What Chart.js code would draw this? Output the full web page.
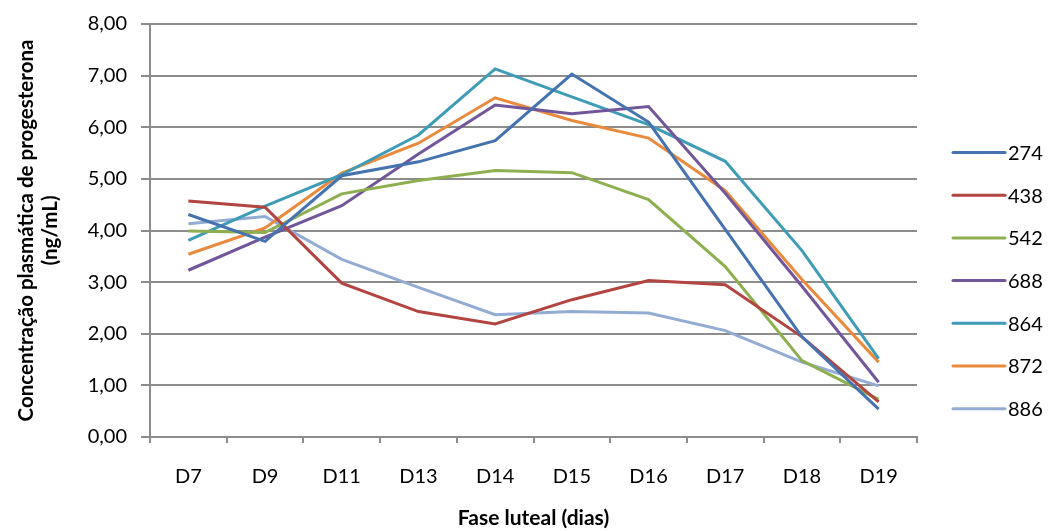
<!DOCTYPE html>
<html>
<head>
<meta charset="utf-8">
<script src="https://cdn.jsdelivr.net/npm/chart.js@4/dist/chart.umd.min.js"></script>
<style>
  html, body { margin: 0; padding: 0; background: #fff; }
  #wrap { width: 1050px; height: 531px; position: relative; }
</style>
</head>
<body>
<div id="wrap"><canvas id="c"></canvas></div>
<script>
// Days of the luteal phase
const days = ['D7', 'D9', 'D11', 'D13', 'D14', 'D15', 'D16', 'D17', 'D18', 'D19'];

// Plasma progesterone (ng/mL) per animal
const a274 = [4.31, 3.79, 5.06, 5.33, 5.74, 7.03, 6.10, 4.02, 1.94, 0.54];
const a438 = [4.57, 4.45, 2.98, 2.43, 2.19, 2.66, 3.03, 2.95, 1.94, 0.68];
const a542 = [3.99, 3.96, 4.71, 4.97, 5.16, 5.12, 4.60, 3.30, 1.48, 0.73];
const a688 = [3.23, 3.87, 4.48, 5.48, 6.43, 6.26, 6.40, 4.72, 2.92, 1.06];
const a864 = [3.81, 4.47, 5.08, 5.85, 7.13, 6.59, 6.05, 5.34, 3.61, 1.52];
const a872 = [3.54, 4.05, 5.11, 5.69, 6.57, 6.13, 5.79, 4.77, 3.05, 1.45];
const a886 = [4.13, 4.27, 3.44, 2.90, 2.37, 2.43, 2.40, 2.06, 1.45, 0.99];

const animals = ['274', '438', '542', '688', '864', '872', '886'];
const seriesValues = [a274, a438, a542, a688, a864, a872, a886];
const colors = ['#4473B0', '#B24441', '#8EAF4F', '#715799', '#3F9CB7', '#E98A3C', '#93ACD4'];

const FONT = 'Lato, "Open Sans", sans-serif';

// Legend drawn in the right margin, one line swatch per dataset
const sideLegend = {
  id: 'sideLegend',
  afterDraw(chart) {
    const ctx = chart.ctx;
    const x0 = 953, x1 = 1005, yStart = 152.5, step = 42.7;
    ctx.save();
    ctx.font = '20px ' + FONT;
    ctx.textBaseline = 'middle';
    ctx.textAlign = 'left';
    chart.data.datasets.forEach((ds, i) => {
      const y = yStart + i * step;
      ctx.strokeStyle = ds.borderColor;
      ctx.lineWidth = 3;
      ctx.lineCap = 'round';
      ctx.beginPath();
      ctx.moveTo(x0, y);
      ctx.lineTo(x1, y);
      ctx.stroke();
      ctx.fillStyle = '#000';
      ctx.fillText(ds.label, x1 + 3, y + 1);
    });
    ctx.restore();
  }
};

new Chart(document.getElementById('c'), {
  type: 'line',
  data: {
    labels: days,
    datasets: animals.map((name, i) => ({
      label: name,
      data: seriesValues[i],
      borderColor: colors[i],
      backgroundColor: colors[i],
      borderWidth: 3,
      pointRadius: 0,
      tension: 0,
      fill: false
    }))
  },
  options: {
    responsive: true,
    maintainAspectRatio: false,
    animation: false,
    layout: { padding: { left: 0, right: 133, top: 23, bottom: 0 } },
    plugins: {
      legend: { display: false },
      tooltip: { enabled: false }
    },
    scales: {
      x: {
        offset: true,
        grid: {
          offset: true,
          drawOnChartArea: false,
          drawTicks: true,
          tickLength: 6,
          color: '#8c8c8c',
          lineWidth: 2
        },
        border: { color: '#8c8c8c', width: 2 },
        ticks: { color: '#000', font: { family: FONT, size: 20 }, padding: 22, maxRotation: 0 },
        title: {
          display: true,
          text: 'Fase luteal (dias)',
          color: '#000',
          font: { family: FONT, size: 21, weight: 'bold' },
          padding: { top: 0, bottom: 0 }
        },
        afterFit(scale) { scale.height = 94; }
      },
      y: {
        min: 0,
        max: 8,
        grid: { color: '#8c8c8c', lineWidth: 2, tickLength: 9 },
        border: { color: '#8c8c8c', width: 2 },
        ticks: {
          stepSize: 1,
          color: '#000',
          padding: 14,
          font: { family: FONT, size: 20, lineHeight: 1 },
          callback: v => v.toFixed(2).replace('.', ',')
        },
        title: {
          display: true,
          text: ['Concentração plasmática de progesterona', '(ng/mL)'],
          color: '#000',
          font: { family: FONT, size: 20.5, weight: 'bold', lineHeight: 1.15 },
          padding: { top: 15, bottom: 0 }
        },
        afterFit(scale) { scale.width = 150; }
      }
    }
  },
  plugins: [sideLegend]
});
</script>
</body>
</html>
